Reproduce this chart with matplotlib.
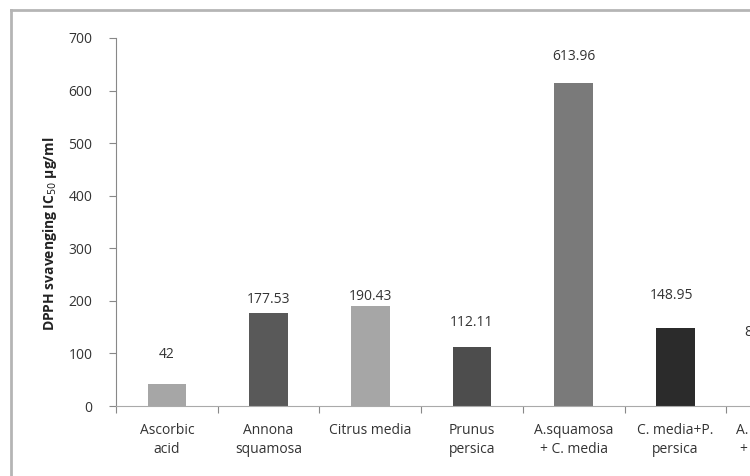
import matplotlib.pyplot as plt
from matplotlib.lines import Line2D

plt.rcParams['font.family'] = ['Open Sans', 'DejaVu Sans']

# data (last bar is cut off at the right edge)
categories = ['Ascorbic\nacid', 'Annona\nsquamosa', 'Citrus media', 'Prunus\npersica',
              'A.squamosa\n+ C. media', 'C. media+P.\npersica', 'A. squamosa\n+ P. persica']
values = [42, 177.53, 190.43, 112.11, 613.96, 148.95, 84.21]
labels = ['42', '177.53', '190.43', '112.11', '613.96', '148.95', '84.21']
colors = ['#a6a6a6', '#595959', '#a6a6a6', '#4d4d4d', '#7a7a7a', '#2b2b2b', '#a6a6a6']
yticks = [0, 100, 200, 300, 400, 500, 600, 700]

# label placement (points above bar top, x shift) - labels were hand placed
lab_dy = [16, 4, 1, 12, 14, 18, 16]
lab_dx = [0, 0, 0, 0, 0, -3, -11]

W, H = 750, 476
fig = plt.figure(figsize=(7.5, 4.76), dpi=100)
ax = fig.add_axes([116 / W, 1 - 406 / H, 712 / W, (406 - 38) / H])

x = list(range(len(values)))
bars = ax.bar(x, values, width=0.38, color=colors)
for b, lab, dy, dx in zip(bars, labels, lab_dy, lab_dx):
    ax.annotate(lab, (b.get_x() + b.get_width() / 2, b.get_height()),
                xytext=(dx, dy), textcoords='offset points',
                ha='center', va='bottom', fontsize=10, color='#333333')

ax.set_xlim(-0.5, len(values) - 0.5)
ax.set_ylim(0, 700)
ax.set_yticks(yticks)
ax.tick_params(axis='y', direction='out', length=5, color='#888888',
               labelsize=10, labelcolor='#333333', pad=12)

# excel style: ticks between categories, labels centered
ax.set_xticks([i - 0.5 for i in range(len(values) + 1)])
ax.set_xticklabels([])
ax.set_xticks(x, minor=True)
ax.set_xticklabels(categories, minor=True, fontsize=10, color='#333333',
                   linespacing=1.35)
ax.tick_params(axis='x', which='major', direction='out', length=5, color='#888888')
ax.tick_params(axis='x', which='minor', length=0, pad=12)

for s in ['top', 'right']:
    ax.spines[s].set_visible(False)
ax.spines['left'].set_color('#888888')
ax.spines['bottom'].set_color('#aaaaaa')

fig.text(50 / W, 1 - 234 / H, 'DPPH svavenging IC$_{50}$ µg/ml', rotation=90,
         ha='center', va='center', fontsize=10, fontweight='bold', color='#222222')

# chart area border
fig.add_artist(Line2D([11 / W, 11 / W], [0, 1 - 10 / H], color='#b5b5b5', lw=2))
fig.add_artist(Line2D([11 / W, 1], [1 - 10 / H, 1 - 10 / H], color='#b5b5b5', lw=2))

fig.savefig('out.png', dpi=100)
